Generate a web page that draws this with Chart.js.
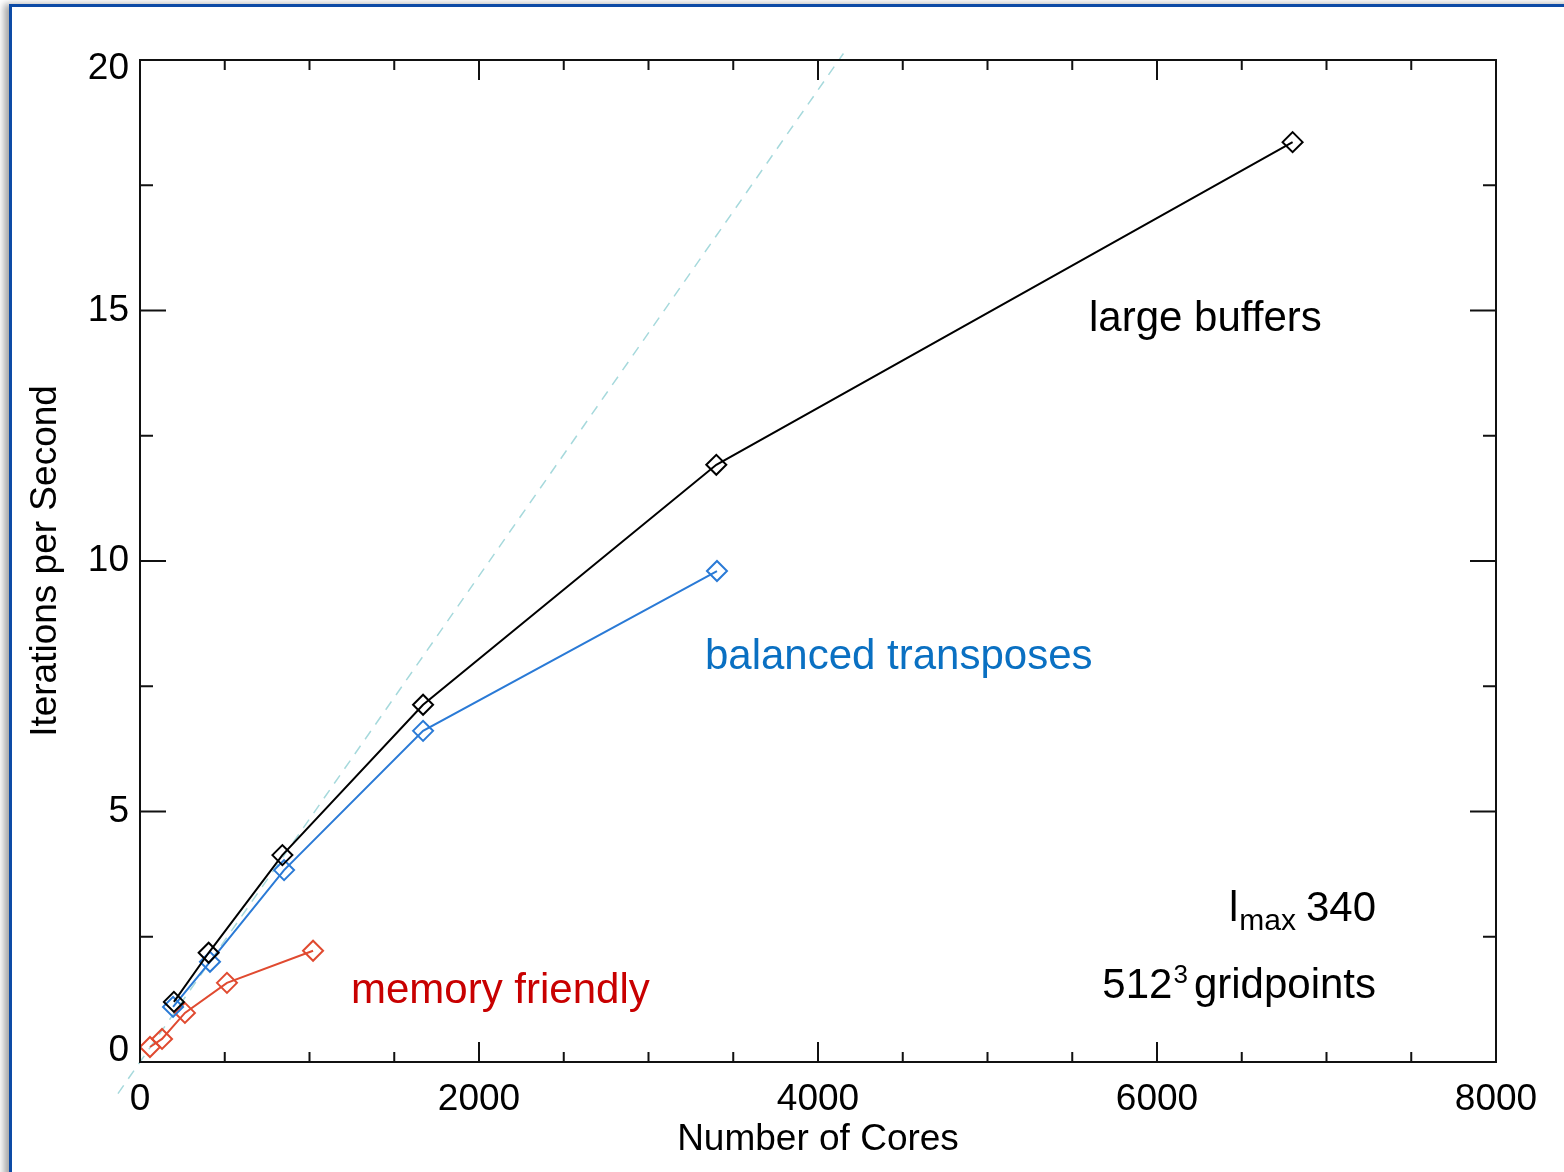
<!DOCTYPE html>
<html>
<head>
<meta charset="utf-8">
<title>Iterations per Second vs Number of Cores</title>
<script src="https://cdn.jsdelivr.net/npm/chart.js@4.4.1/dist/chart.umd.min.js"></script>
<style>
  html, body { margin: 0; padding: 0; background: #fff; overflow: hidden; }
  #frame {
    position: absolute; left: 9px; top: 4px; width: 1700px; height: 1300px;
    border-left: 3px solid #0d4ba6; border-top: 3px solid #0d4ba6;
    box-shadow: -5px 0 7px rgba(0, 0, 0, 0.35);
  }
  #wrap { position: absolute; left: 0; top: 0; width: 1564px; height: 1172px; }
</style>
</head>
<body>
<div id="frame"></div>
<div id="wrap"><canvas id="myChart"></canvas></div>
<script>
// number of cores / iterations per second
const largeCores = [200, 405, 840, 1670, 3400, 6800];
const largeIps = [1.20, 2.18, 4.13, 7.13, 11.92, 18.36];

const balancedCores = [195, 413, 850, 1670, 3404];
const balancedIps = [1.10, 2.00, 3.83, 6.61, 9.80];

const memoryCores = [59, 130, 265, 513, 1021];
const memoryIps = [0.30, 0.46, 0.98, 1.58, 2.22];

// ideal (linear) scaling reference
const idealCores = [-130, 4150];
const idealIps = [-0.63, 20.13];

const xTicks = [0, 2000, 4000, 6000, 8000];
const yTicks = [0, 5, 10, 15, 20];

const toPoints = (xs, ys) => xs.map((v, i) => ({ x: v, y: ys[i] }));

Chart.defaults.font.family = "'Liberation Sans', Arial, Helvetica, sans-serif";
Chart.defaults.color = '#000';

// closed box with inward ticks on all four sides, like the original plot
const frameTicks = {
    id: 'frameTicks',
    afterDatasetsDraw(chart) {
        const { ctx, chartArea: a, scales: { x, y } } = chart;
        ctx.save();
        ctx.strokeStyle = '#111';
        ctx.lineWidth = 2;
        ctx.strokeRect(a.left, a.top, a.right - a.left, a.bottom - a.top);
        ctx.beginPath();
        for (let v = xTicks[0]; v <= xTicks[xTicks.length - 1]; v += 500) {
            const px = x.getPixelForValue(v);
            const len = v % 2000 === 0 ? 20 : 10;
            ctx.moveTo(px, a.bottom); ctx.lineTo(px, a.bottom - len);
            ctx.moveTo(px, a.top); ctx.lineTo(px, a.top + len);
        }
        for (let v = yTicks[0]; v <= yTicks[yTicks.length - 1]; v += 2.5) {
            const py = y.getPixelForValue(v);
            const len = v % 5 === 0 ? 26 : 13;
            ctx.moveTo(a.left, py); ctx.lineTo(a.left + len, py);
            ctx.moveTo(a.right, py); ctx.lineTo(a.right - len, py);
        }
        ctx.stroke();

        // y labels: the end ones sit inside the box range, as in the original
        ctx.font = '37px "Liberation Sans", Arial, sans-serif';
        ctx.fillStyle = '#000';
        ctx.textAlign = 'right';
        ctx.textBaseline = 'middle';
        yTicks.forEach((v, i) => {
            let py = y.getPixelForValue(v);
            if (i === 0) py -= 11;
            if (i === yTicks.length - 1) py += 9;
            ctx.fillText(String(v), a.left - 11, py);
        });
        ctx.restore();
    }
};

// series names and run info written inside the plot
const notes = {
    id: 'notes',
    afterDraw(chart) {
        const { ctx, scales: { x, y } } = chart;
        const font = '42px "Liberation Sans", Arial, sans-serif';
        const small = '30px "Liberation Sans", Arial, sans-serif';
        ctx.save();
        ctx.textBaseline = 'alphabetic';
        ctx.textAlign = 'left';
        ctx.font = font;

        ctx.fillStyle = '#000';
        ctx.fillText('large buffers', x.getPixelForValue(5599), y.getPixelForValue(14.59));
        ctx.fillStyle = '#0a70c2';
        ctx.fillText('balanced transposes', x.getPixelForValue(3333), y.getPixelForValue(7.84));
        ctx.fillStyle = '#c80000';
        ctx.fillText('memory friendly', x.getPixelForValue(1245), y.getPixelForValue(1.18));

        // l_max 340, right aligned
        ctx.fillStyle = '#000';
        const right = x.getPixelForValue(7292);
        let base = y.getPixelForValue(2.82);
        ctx.textAlign = 'right';
        ctx.fillText('340', right, base);
        let cur = right - ctx.measureText('340').width - 10;
        ctx.font = small;
        ctx.fillText('max', cur, base + 9);
        cur -= ctx.measureText('max').width + 1;
        ctx.font = font;
        ctx.fillText('l', cur, base);

        // 512^3 gridpoints
        base = y.getPixelForValue(1.28);
        ctx.fillText('gridpoints', right, base);
        cur = right - ctx.measureText('gridpoints').width - 6;
        ctx.font = '26px "Liberation Sans", Arial, sans-serif';
        ctx.fillText('3', cur, base - 15);
        cur -= ctx.measureText('3').width + 1;
        ctx.font = font;
        ctx.fillText('512', cur, base);
        ctx.restore();
    }
};

const data = {
    datasets: [{
        label: 'large buffers',
        data: toPoints(largeCores, largeIps),
        borderColor: '#000',
        borderWidth: 2,
        pointStyle: 'rectRot',
        pointRadius: 10,
        pointBorderWidth: 2,
        pointBackgroundColor: 'rgba(0,0,0,0)',
        showLine: true
    }, {
        label: 'balanced transposes',
        data: toPoints(balancedCores, balancedIps),
        borderColor: '#2a7ad6',
        borderWidth: 2,
        pointStyle: 'rectRot',
        pointRadius: 10,
        pointBorderWidth: 2,
        pointBackgroundColor: 'rgba(0,0,0,0)',
        showLine: true
    }, {
        label: 'memory friendly',
        data: toPoints(memoryCores, memoryIps),
        borderColor: '#e04a30',
        borderWidth: 2,
        pointStyle: 'rectRot',
        pointRadius: 10,
        pointBorderWidth: 2,
        pointBackgroundColor: 'rgba(0,0,0,0)',
        showLine: true
    }, {
        label: 'ideal',
        data: toPoints(idealCores, idealIps),
        borderColor: '#a6d9dc',
        borderWidth: 1.5,
        borderDash: [10, 8],
        pointRadius: 0,
        showLine: true,
        clip: false
    }]
};

const config = {
    type: 'scatter',
    data,
    options: {
        responsive: true,
        maintainAspectRatio: false,
        animation: false,
        layout: {
            padding: { left: 0, top: 60, right: 68, bottom: 0 }
        },
        scales: {
            x: {
                type: 'linear',
                min: 0,
                max: 8000,
                afterBuildTicks: s => { s.ticks = xTicks.map(v => ({ value: v })); },
                afterFit: s => { s.height = 110; },
                ticks: {
                    font: { size: 37 },
                    color: '#000',
                    padding: 16,
                    maxRotation: 0,
                    callback: v => String(v)
                },
                grid: { display: false, drawTicks: false },
                border: { display: false },
                title: {
                    display: true,
                    text: 'Number of Cores',
                    font: { size: 37 },
                    color: '#000',
                    padding: { top: 0, bottom: 10 }
                }
            },
            y: {
                min: 0,
                max: 20,
                afterBuildTicks: s => { s.ticks = yTicks.map(v => ({ value: v })); },
                afterFit: s => { s.width = 140; },
                ticks: { display: false },
                grid: { display: false, drawTicks: false },
                border: { display: false },
                title: {
                    display: true,
                    text: 'Iterations per Second',
                    font: { size: 37 },
                    color: '#000',
                    padding: { top: 24, bottom: 0 }
                }
            }
        },
        plugins: {
            legend: { display: false },
            tooltip: { enabled: false },
            title: { display: false }
        }
    },
    plugins: [frameTicks, notes]
};

var myChart = new Chart(
    document.getElementById('myChart'),
    config
);
</script>
</body>
</html>
